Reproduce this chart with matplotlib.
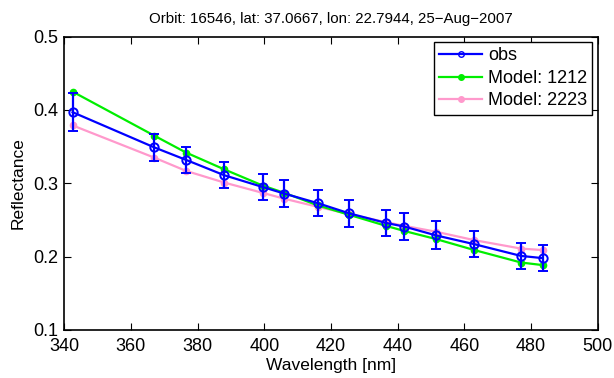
import numpy as np
import matplotlib
matplotlib.use('Agg')
import matplotlib.pyplot as plt
from matplotlib.lines import Line2D

plt.rcParams['font.family'] = ['Liberation Sans', 'DejaVu Sans']

wavelength = [342.5, 367, 376.5, 388, 399.5, 406, 416, 425.5, 436.5, 442, 451.5, 463, 477, 483.5]
obs = [0.397, 0.349, 0.332, 0.311, 0.295, 0.286, 0.273, 0.259, 0.246, 0.241, 0.229, 0.217, 0.201, 0.198]
obsErr = [0.026, 0.018, 0.018, 0.018, 0.018, 0.018, 0.018, 0.018, 0.018, 0.018, 0.019, 0.018, 0.018, 0.018]
model1212 = [0.425, 0.365, 0.342, 0.319, 0.297, 0.287, 0.270, 0.257, 0.242, 0.235, 0.224, 0.209, 0.192, 0.1885]
model2223 = [0.379, 0.335, 0.317, 0.301, 0.287, 0.279, 0.268, 0.258, 0.247, 0.242, 0.234, 0.2225, 0.211, 0.209]

title = 'Orbit: 16546, lat: 37.0667, lon: 22.7944, 25\u2212Aug\u22122007'
blue = '#0000ff'
green = '#00ee00'
pink = '#ff99cc'

fig = plt.figure(figsize=(6.14, 3.78), dpi=100)
ax = fig.add_axes([0.1047, 0.127, 0.8688, 0.776])

ax.errorbar(wavelength, obs, yerr=obsErr, color=blue, lw=1.6, marker='o',
            ms=6, mfc='none', mew=1.4, capsize=3.3, elinewidth=1.6, capthick=1.6,
            zorder=3)
ax.plot(wavelength, model1212, color=green, lw=1.6, marker='o', ms=4.5, zorder=2)
ax.plot(wavelength, model2223, color=pink, lw=1.6, marker='o', ms=4.5, zorder=1)

ax.set_xlim(340, 500)
ax.set_ylim(0.1, 0.5)
ax.set_xticks(np.arange(340, 501, 20))
ax.set_yticks(np.arange(0.1, 0.51, 0.1))
ax.set_yticklabels(['0.1', '0.2', '0.3', '0.4', '0.5'])
ax.tick_params(direction='in', top=True, right=True, labelsize=13, length=5, width=0.8)
ax.tick_params(axis='x', pad=6)
ax.tick_params(axis='y', pad=4)
for sp in ax.spines.values():
    sp.set_linewidth(1.2)

ax.set_xlabel('Wavelength [nm]', fontsize=12.5, labelpad=2)
ax.set_ylabel('Reflectance', fontsize=12.5, labelpad=6)
ax.set_title(title, fontsize=10.8, pad=10)

handles = [
    Line2D([], [], color=blue, lw=1.6, marker='o', ms=4, mfc='none', mew=1),
    Line2D([], [], color=green, lw=1.6, marker='o', ms=4),
    Line2D([], [], color=pink, lw=1.6, marker='o', ms=4),
]
labels = ['obs', 'Model: 1212', 'Model: 2223']
leg = ax.legend(handles, labels, loc='upper right', fontsize=13, fancybox=False,
                framealpha=1, edgecolor='black', borderpad=0.3, labelspacing=0.3,
                handlelength=2.4, handletextpad=0.3, borderaxespad=0.3)
leg.get_frame().set_linewidth(1.0)

fig.savefig('out.png', dpi=100)
